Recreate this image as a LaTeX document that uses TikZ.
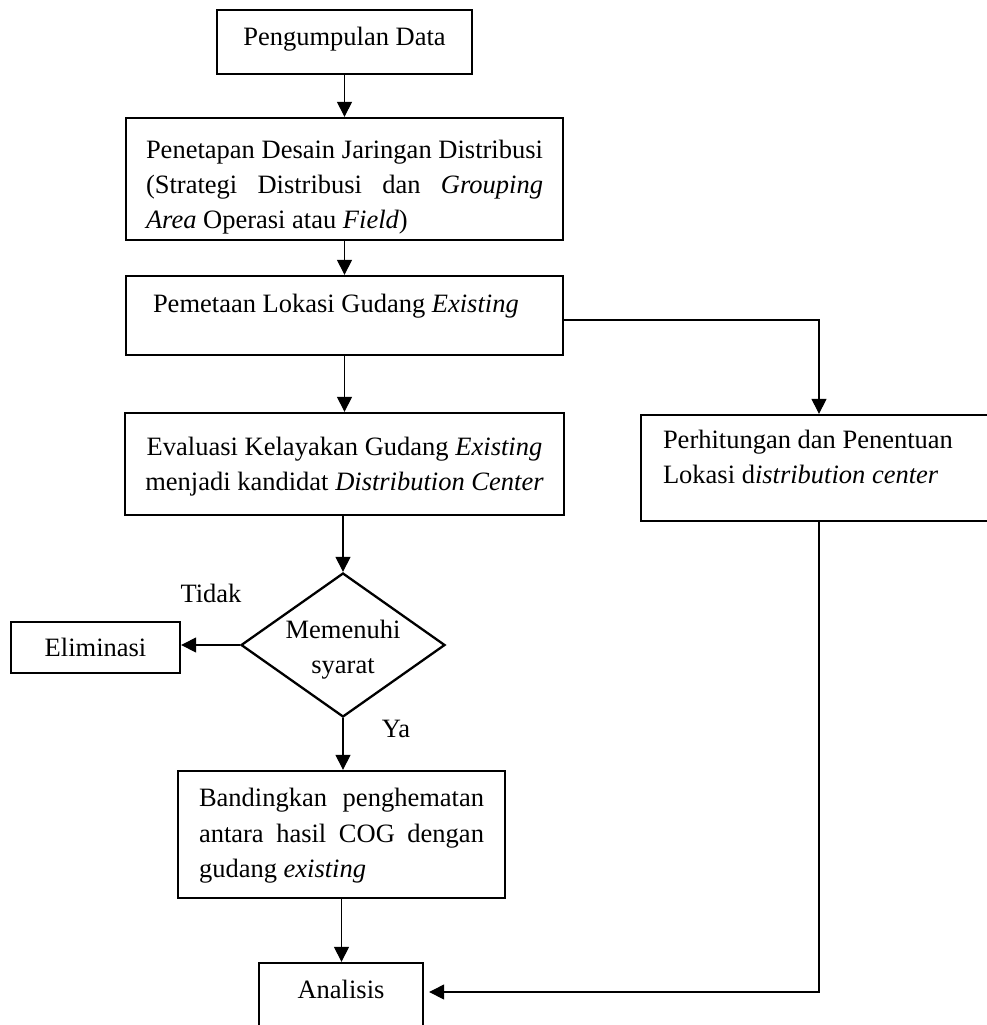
\documentclass[tikz,border=0pt]{standalone}
\usepackage{fontspec}
\setmainfont{Liberation Serif}
\usetikzlibrary{arrows.meta,shapes.geometric}
\tolerance=9999 \hyphenpenalty=10000 \hbadness=10000
\begin{document}
\begin{tikzpicture}[x=1pt,y=-1pt,
  every node/.style={font=\fontsize{26.5}{35}\selectfont,
    execute at begin node={\spaceskip=0pt \xspaceskip=0pt \relax}},
  box/.style={draw, line width=2.3pt, rectangle, inner ysep=0pt, text height=0pt, text depth=0pt},
  decision/.style={draw, line width=2.3pt, diamond, inner sep=0pt, aspect=1.4167,
    text height=0pt, text depth=0pt, minimum width=204pt, minimum height=144pt},
  arr/.style={line width=1.1pt, -{Triangle[length=15pt,width=15pt]}}]

\useasboundingbox (0,0) rectangle (987,1025);
\clip (0,0) rectangle (987,1025);

% process boxes
\node[box, minimum width=255pt, minimum height=64pt, text height=8pt] (b1) at (344.5,42)
  {Pengumpulan Data};
\node[box, minimum width=437pt, minimum height=122pt, inner xsep=20pt, text width=397pt,
  align=justify, text depth=42pt] (b2) at (344.5,179)
  {Penetapan Desain Jaringan Distribusi\linebreak
   (Strategi Distribusi dan \textit{Grouping}\linebreak
   \textit{Area} Operasi atau \textit{Field})};
\node[box, minimum width=437pt, minimum height=79pt, inner xsep=27pt, text width=383pt,
  align=left, text depth=7pt] (b3) at (344.5,315.5)
  {Pemetaan Lokasi Gudang \textit{Existing}};
\node[box, minimum width=439pt, minimum height=102pt, inner xsep=19.5pt, text width=400pt,
  align=center, text depth=18pt] (b4) at (344.5,464)
  {Evaluasi Kelayakan Gudang \textit{Existing}\\
   menjadi kandidat \textit{Distribution Center}};
\node[box, minimum width=356pt, minimum height=106pt, inner xsep=22pt, text width=312pt,
  align=left, text depth=40pt] (rbox) at (819,468)
  {Perhitungan dan Penentuan\\
   Lokasi d\textit{istribution center}};
\node[decision, text width=130pt, align=center, text depth=14pt] (dec) at (343,645)
  {Memenuhi\\syarat};
\node[box, minimum width=169pt, minimum height=51pt, text height=17pt] (elim) at (95.5,647.5)
  {Eliminasi};
\node[box, minimum width=327pt, minimum height=127pt, inner xsep=21pt, text width=285pt,
  align=justify, text depth=56pt, font=\fontsize{26.5}{35.5}\selectfont] (b5) at (341.5,834.5)
  {Bandingkan penghematan\linebreak
   antara hasil COG dengan\linebreak
   gudang \textit{existing}};
\node[box, minimum width=164pt, minimum height=78pt, text depth=8pt] (an) at (341,1002)
  {Analisis};

% branch labels
\node[anchor=base] (tidak) at (211,602) {Tidak};
\node[anchor=base] (ya) at (396,737) {Ya};

% connectors
\draw[arr] (b1.south) -- (b1.south |- b2.north);
\draw[arr] (b2.south) -- (b2.south |- b3.north);
\draw[arr] (b3.south) -- (b3.south |- b4.north);
\draw[arr] ([yshift=-4.5pt]b3.east) -| (rbox.north);
\draw[arr] (b4.south -| dec.north) -- (dec.north);
\draw[arr] (dec.west) -- (dec.west -| elim.east);
\draw[arr] (dec.south) -- (dec.south |- b5.north);
\draw[arr] (b5.south) -- (b5.south |- an.north);
\draw[arr] (rbox.south) |- ([xshift=5pt,yshift=10pt]an.east);
\end{tikzpicture}
\end{document}
